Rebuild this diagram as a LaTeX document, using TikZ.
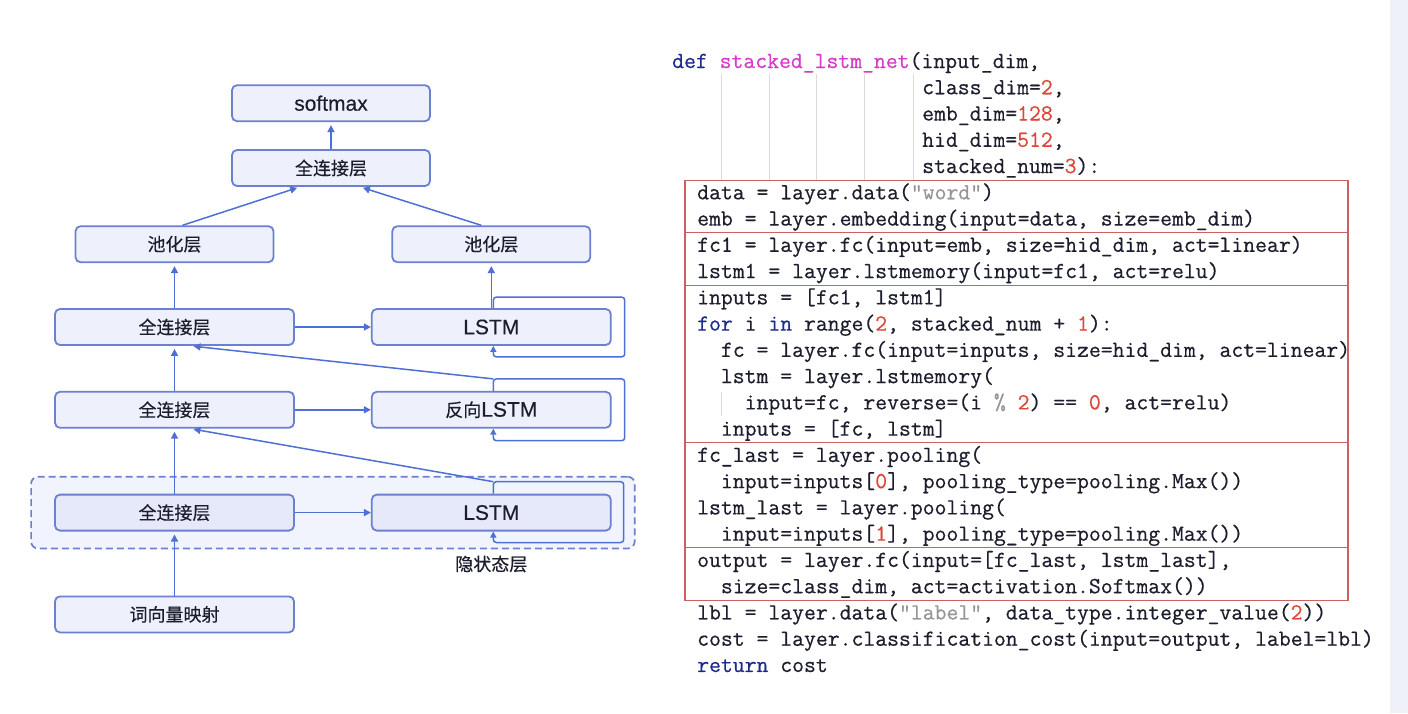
\documentclass[tikz,border=0pt]{standalone}
\usepackage{fontspec}
\setmainfont[FakeBold=0.3]{Liberation Sans}
\setmonofont[FakeBold=0.5]{Latin Modern Mono}
\newfontfamily\cjk[FakeBold=0.3]{Noto Sans CJK SC}
\usepackage{xcolor}
\usetikzlibrary{arrows.meta,positioning,fit,calc,backgrounds}
\definecolor{boxedge}{RGB}{107,128,207}
\definecolor{boxfill}{RGB}{238,241,252}
\definecolor{hidfill}{RGB}{242,244,253}
\definecolor{hidbox}{RGB}{229,233,249}
\definecolor{linkblue}{RGB}{78,112,214}
\definecolor{codered}{RGB}{205,96,96}
\definecolor{codetext}{RGB}{28,30,46}
\definecolor{kwblue}{RGB}{27,42,140}
\definecolor{fnpink}{RGB}{214,60,200}
\definecolor{numred}{RGB}{224,69,58}
\definecolor{strgray}{RGB}{150,150,150}
\definecolor{guidegray}{RGB}{218,218,218}
\definecolor{panelgray}{RGB}{238,241,248}

\newcommand{\zh}[1]{{\fontsize{18}{22}\cjk #1}}
\newcommand{\kw}[1]{\textcolor{kwblue}{#1}}
\newcommand{\fn}[1]{\textcolor{fnpink}{#1}}
\newcommand{\nm}[1]{\textcolor{numred}{#1}}
\newcommand{\st}[1]{\textcolor{strgray}{#1}}
\newcommand{\codeln}[3]{\node[code] (ln#1) at (#2,{68+26.26*#1}) {#3};}

\begin{document}
\begin{tikzpicture}[
    x=1pt, y=-1pt,
    every text node part/.style={align=center},
    layerbox/.style={draw=boxedge, fill=boxfill, line width=1.8pt, rounded corners=5pt, minimum height=36pt, inner sep=0pt, text=codetext, font=\fontsize{21}{24}\selectfont},
    widebox/.style={layerbox, minimum width=239pt},
    narrowbox/.style={layerbox, minimum width=198pt},
    hidbox/.style={widebox, fill=hidbox},
    link/.style={-{Triangle[length=7pt,width=7pt]}, line width=1.5pt, draw=linkblue, shorten >=3pt},
    loopline/.style={-{Triangle[length=6pt,width=6pt]}, line width=1.5pt, draw=linkblue, rounded corners=3pt},
    hidden/.style={draw=boxedge, dash pattern=on 7pt off 4pt, line width=1.7pt, rounded corners=7pt, fill=hidfill, inner xsep=23pt, inner ysep=17pt},
    tag/.style={text=codetext, inner sep=0pt},
    code/.style={font=\ttfamily\fontsize{23.05}{26}\selectfont, text=codetext, inner sep=0pt, anchor=base west},
    frame/.style={draw=codered, line width=1.3pt},
    guide/.style={draw=guidegray, line width=1pt}
]
\useasboundingbox (0,0) rectangle (1408,713);

% Network
\node (fcA) [widebox] at (174.5,327) {\zh{全连接层}};
\node (fcB) [widebox, below=45pt of fcA] {\zh{全连接层}};
\node (fcC) [hidbox, below=65pt of fcB] {\zh{全连接层}};
\node (emb) [widebox, below=64pt of fcC] {\zh{词向量映射}};
\node (lstmA) [widebox, right=76pt of fcA] {LSTM};
\node (rev) [widebox, right=76pt of fcB] {\zh{反向}LSTM};
\node (lstmC) [hidbox, right=76pt of fcC] {LSTM};
\node (poolL) [narrowbox, above=45pt of fcA] {\zh{池化层}};
\node (poolR) [narrowbox, above=45pt of lstmA] {\zh{池化层}};
\node (fcTop) [narrowbox] at (331,168) {\zh{全连接层}};
\node (soft) [narrowbox, above=27pt of fcTop] {softmax};

\begin{scope}[on background layer]
\fill[white] (0,0) rectangle (1408,713);
\fill[panelgray] (1390,0) rectangle (1408,713);
\node (hidden) [hidden, fit=(fcC)(lstmC)] {};
\end{scope}
\node (hidlbl) [tag, below=6pt] at (lstmC.south |- hidden.south) {\zh{隐状态层}};

% Connectors
\draw [link] (emb) -- (fcC);
\draw [link] (fcC) -- (fcB);
\draw [link] (fcB) -- (fcA);
\draw [link] (fcA) -- (poolL);
\draw [link] (lstmA) -- (poolR);
\draw [link, shorten >=0pt] (fcA) -- (lstmA);
\draw [link, shorten >=0pt] (fcB) -- (rev);
\draw [link, shorten >=0pt] (fcC) -- (lstmC);
\draw [link] ([xshift=8pt]poolL.north) -- ([xshift=-31pt]fcTop.south);
\draw [link] ([xshift=-10pt]poolR.north) -- ([xshift=29pt]fcTop.south);
\draw [link] (fcTop) -- (soft);

% Recurrent loops
\draw [loopline] ([xshift=2pt]lstmA.north) |- ([xshift=13pt,yshift=11pt]lstmA.north east) |- ([xshift=2pt,yshift=-11pt]lstmA.south) -- ([xshift=2pt]lstmA.south);
\draw [loopline] ([xshift=2pt]rev.north) |- ([xshift=13pt,yshift=12pt]rev.north east) |- ([xshift=2pt,yshift=-12pt]rev.south) -- ([xshift=2pt]rev.south);
\draw [loopline] ([xshift=2pt]lstmC.north) |- ([xshift=12pt,yshift=12pt]lstmC.north east) |- ([xshift=2pt,yshift=-11pt]lstmC.south) -- ([xshift=2pt]lstmC.south);
\draw [link] ([xshift=2pt,yshift=12pt]rev.north) -- ([xshift=16pt]fcA.south);
\draw [link] ([xshift=2pt,yshift=12pt]lstmC.north) -- ([xshift=16pt]fcB.south);

% Code
\foreach \gx in {721,769,816,864,913}
    \draw [guide] (\gx,74) -- (\gx,180);
\draw [guide] (721,392) -- (721,416);
\draw [frame] (685,{62+26.26*4.5}) rectangle (1348,{62+26.26*20.5});
\foreach \k in {6.5,8.5,14.5,18.5}
    \draw [frame] (685,{62+26.26*\k}) -- (1348,{62+26.26*\k});

\codeln{0}{672}{\kw{def} \fn{stacked\_lstm\_net}(input\_dim,}
\codeln{1}{922}{class\_dim=\nm{2},}
\codeln{2}{922}{emb\_dim=\nm{128},}
\codeln{3}{922}{hid\_dim=\nm{512},}
\codeln{4}{922}{stacked\_num=\nm{3}):}
\codeln{5}{697}{data = layer.data(\st{"word"})}
\codeln{6}{697}{emb = layer.embedding(input=data, size=emb\_dim)}
\codeln{7}{697}{fc1 = layer.fc(input=emb, size=hid\_dim, act=linear)}
\codeln{8}{697}{lstm1 = layer.lstmemory(input=fc1, act=relu)}
\codeln{9}{697}{inputs = [fc1, lstm1]}
\codeln{10}{697}{\kw{for} i \kw{in} range(\nm{2}, stacked\_num + \nm{1}):}
\codeln{11}{697}{~~fc = layer.fc(input=inputs, size=hid\_dim, act=linear)}
\codeln{12}{697}{~~lstm = layer.lstmemory(}
\codeln{13}{697}{~~~~input=fc, reverse=(i \st{\%} \nm{2}) == \nm{0}, act=relu)}
\codeln{14}{697}{~~inputs = [fc, lstm]}
\codeln{15}{697}{fc\_last = layer.pooling(}
\codeln{16}{697}{~~input=inputs[\nm{0}], pooling\_type=pooling.Max())}
\codeln{17}{697}{lstm\_last = layer.pooling(}
\codeln{18}{697}{~~input=inputs[\nm{1}], pooling\_type=pooling.Max())}
\codeln{19}{697}{output = layer.fc(input=[fc\_last, lstm\_last],}
\codeln{20}{697}{~~size=class\_dim, act=activation.Softmax())}
\codeln{21}{697}{lbl = layer.data(\st{"label"}, data\_type.integer\_value(\nm{2}))}
\codeln{22}{697}{cost = layer.classification\_cost(input=output, label=lbl)}
\codeln{23}{697}{\kw{return} cost}
\end{tikzpicture}
\end{document}
